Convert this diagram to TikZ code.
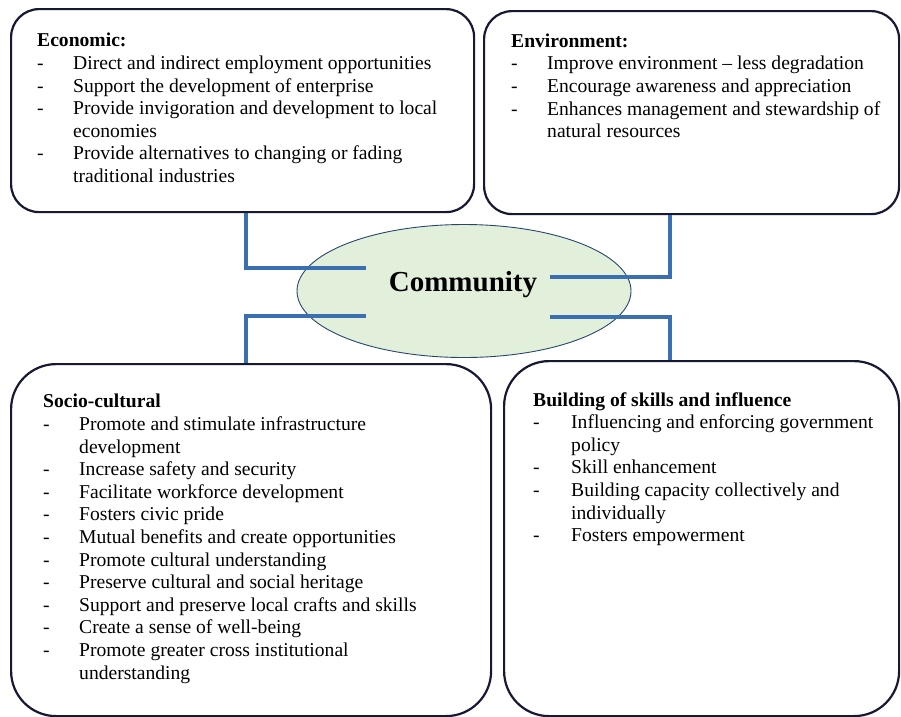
\documentclass[tikz,border=0pt]{standalone}
\usepackage{fontspec}
\setmainfont{Liberation Serif}
\usetikzlibrary{shapes.geometric}
\definecolor{conncol}{RGB}{58,112,178}
\definecolor{boxline}{RGB}{22,24,52}
\definecolor{ellfill}{RGB}{226,239,218}
\definecolor{ellline}{RGB}{40,70,110}
\newcommand{\dsh}[1]{\makebox[#1][l]{-}}
\newcommand{\cnt}[1]{\hspace*{#1}}
\begin{document}
\begin{tikzpicture}[x=1pt,y=-1pt,
  box/.style={draw=boxline, line width=2.2pt, rectangle, anchor=north west, inner sep=0pt},
  txt/.style={anchor=north west, inner sep=0pt, align=left, font=\fontsize{19.6}{22.6}\selectfont},
  conn/.style={draw=conncol, line width=4.5pt}]
\useasboundingbox (0,0) rectangle (901,716);
% boxes
\node[box, rounded corners=28pt, minimum width=463pt, minimum height=203pt] (econ) at (10,8) {};
\node[box, rounded corners=28pt, minimum width=415pt, minimum height=203pt] (env) at (483,10) {};
\node[box, rounded corners=45pt, minimum width=480pt, minimum height=352pt] (socio) at (10,363) {};
\node[box, rounded corners=45pt, minimum width=395pt, minimum height=355pt] (build) at (503,360) {};
% texts
\node[txt] (econtxt) at (37,33) {\textbf{Economic:}\\
\dsh{36pt}Direct and indirect employment opportunities\\
\dsh{36pt}Support the development of enterprise\\
\dsh{36pt}Provide invigoration and development to local\\
\cnt{36pt}economies\\
\dsh{36pt}Provide alternatives to changing or fading\\
\cnt{36pt}traditional industries};
\node[txt] (envtxt) at (511,33.5) {\textbf{Environment:}\\
\dsh{36pt}Improve environment -- less degradation\\
\dsh{36pt}Encourage awareness and appreciation\\
\dsh{36pt}Enhances management and stewardship of\\
\cnt{36pt}natural resources};
\node[txt] (sociotxt) at (43,394) {\textbf{Socio-cultural}\\
\dsh{36pt}Promote and stimulate infrastructure\\
\cnt{36pt}development\\
\dsh{36pt}Increase safety and security\\
\dsh{36pt}Facilitate workforce development\\
\dsh{36pt}Fosters civic pride\\
\dsh{36pt}Mutual benefits and create opportunities\\
\dsh{36pt}Promote cultural understanding\\
\dsh{36pt}Preserve cultural and social heritage\\
\dsh{36pt}Support and preserve local crafts and skills\\
\dsh{36pt}Create a sense of well-being\\
\dsh{36pt}Promote greater cross institutional\\
\cnt{36pt}understanding};
\node[txt] (buildtxt) at (533,392) {\textbf{Building of skills and influence}\\
\dsh{38pt}Influencing and enforcing government\\
\cnt{38pt}policy\\
\dsh{38pt}Skill enhancement\\
\dsh{38pt}Building capacity collectively and\\
\cnt{38pt}individually\\
\dsh{38pt}Fosters empowerment};
% ellipse
\node[ellipse, draw=ellline, line width=0.9pt, fill=ellfill, minimum width=334pt, minimum height=133pt, inner sep=0pt] (comm) at (464,291) {};
\node[font=\fontsize{29}{32}\selectfont\bfseries, inner sep=0pt] (commtxt) at (463,285) {Community};
% connector coordinates
\coordinate (xl) at (246,0);
\coordinate (xr) at (670,0);
\coordinate (c1) at (366,268);
\coordinate (c2) at (550,277);
\coordinate (c3) at (366,316);
\coordinate (c4) at (550,317);
\draw[conn] (econ.south -| xl) |- (c1);
\draw[conn] (env.south -| xr) |- (c2);
\draw[conn] (socio.north -| xl) |- (c3);
\draw[conn] (build.north -| xr) |- (c4);
\end{tikzpicture}
\end{document}
